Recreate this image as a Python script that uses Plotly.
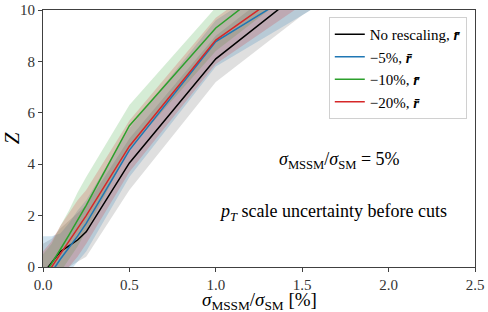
import plotly.graph_objects as go

x = [0.0, 0.05, 0.1, 0.15, 0.2, 0.25, 0.5, 1.0, 1.5, 2.0]

names = ["No rescaling, <b><i>r̄</i></b>", "−5%, <b><i>r̄</i></b>",
         "−10%, <b><i>r̄</i></b>", "−20%, <b><i>r̄</i></b>"]

z_none = [-0.26, 0.17, 0.6, 0.82, 1.05, 1.37, 4.05, 8.1, 10.75, 12.8]
z_m5 = [-0.65, -0.2, 0.3, 0.75, 1.2, 1.7, 4.55, 8.77, 10.85, 12.9]
z_m10 = [-0.4, 0.12, 0.68, 1.24, 1.8, 2.4, 5.5, 9.3, 11.9, 14.0]
z_m20 = [-0.5, 0.0, 0.5, 1.0, 1.5, 2.0, 4.7, 8.83, 11.2, 13.4]

up_none = [0.9, 1.1, 1.5, 1.8, 2.1, 2.4, 5.0, 9.0, 11.6, 13.7]
lo_none = [-1.0, -0.8, -0.3, 0.0, 0.2, 0.4, 3.0, 7.2, 9.8, 11.9]
up_m5 = [1.2, 1.2, 1.3, 1.7, 2.2, 2.6, 5.4, 9.6, 11.8, 13.9]
lo_m5 = [-1.5, -1.2, -0.7, -0.2, 0.2, 0.6, 3.5, 7.8, 9.8, 11.8]
up_m10 = [0.5, 0.9, 1.6, 2.2, 2.9, 3.5, 6.3, 10.1, 12.8, 14.9]
lo_m10 = [-1.3, -0.8, -0.2, 0.3, 0.8, 1.4, 4.6, 8.4, 11.0, 13.1]
up_m20 = [0.6, 1.0, 1.6, 2.1, 2.6, 3.0, 5.7, 9.7, 12.1, 14.3]
lo_m20 = [-1.4, -1.0, -0.5, 0.0, 0.4, 0.9, 3.7, 7.9, 10.2, 12.4]

lines = [z_none, z_m5, z_m10, z_m20]
uppers = [up_none, up_m5, up_m10, up_m20]
lowers = [lo_none, lo_m5, lo_m10, lo_m20]
colors = ["#000000", "#1f77b4", "#2ca02c", "#d62728"]
fills = ["rgba(110,110,110,0.22)", "rgba(31,119,180,0.2)",
         "rgba(44,160,44,0.2)", "rgba(214,39,40,0.2)"]

FONT = "Liberation Serif"

fig = go.Figure()
for up, lo, fc in zip(uppers, lowers, fills):
    fig.add_trace(go.Scatter(x=x, y=lo, mode="lines", line=dict(width=0),
                             showlegend=False, hoverinfo="skip"))
    fig.add_trace(go.Scatter(x=x, y=up, mode="lines", line=dict(width=0),
                             fill="tonexty", fillcolor=fc,
                             showlegend=False, hoverinfo="skip"))
for z, c, n in zip(lines, colors, names):
    fig.add_trace(go.Scatter(x=x, y=z, mode="lines", name=n,
                             line=dict(color=c, width=1.5)))

fig.add_annotation(x=1.715, y=4.16, xref="x", yref="y", showarrow=False,
                   text="<i>σ</i><sub>MSSM</sub>/<i>σ</i><sub>SM</sub> = 5%",
                   font=dict(family=FONT, size=18, color="#000"))
fig.add_annotation(x=1.68, y=2.14, xref="x", yref="y", showarrow=False,
                   text="<i>p<sub>T</sub></i> scale uncertainty before cuts",
                   font=dict(family=FONT, size=18, color="#000"))
# x-axis title
fig.add_annotation(x=0.5, y=-0.132, xref="paper", yref="paper",
                   xanchor="center", yanchor="middle", showarrow=False,
                   borderpad=0,
                   text="<i>σ</i><sub>MSSM</sub>/<i>σ</i><sub>SM</sub> [%]",
                   font=dict(family=FONT, size=19, color="#000"))

axis_common = dict(showline=True, linecolor="#404040", linewidth=1,
                   mirror=True, ticks="outside", ticklen=4, tickcolor="#404040",
                   showgrid=False, zeroline=False, automargin=False,
                   tickfont=dict(family=FONT, size=15, color="#333"))
fig.update_xaxes(range=[0, 2.5], tickvals=[0, 0.5, 1.0, 1.5, 2.0, 2.5],
                 ticktext=["0.0", "0.5", "1.0", "1.5", "2.0", "2.5"],
                 **axis_common)
fig.update_yaxes(range=[0, 10], tickvals=[0, 2, 4, 6, 8, 10],
                 title=dict(text="<i>Z</i>",
                            font=dict(family=FONT, size=21, color="#000"),
                            standoff=6),
                 **axis_common)

fig.update_layout(
    width=488, height=312,
    margin=dict(l=43, r=13, t=10, b=45),
    plot_bgcolor="white", paper_bgcolor="white",
    font=dict(family=FONT, color="#000"),
    legend=dict(x=0.981, y=0.973, xanchor="right", yanchor="top",
                traceorder="normal",
                bgcolor="rgba(255,255,255,0.85)", bordercolor="#d0d0d0",
                borderwidth=1, font=dict(family=FONT, size=15, color="#000"),
                tracegroupgap=0, itemwidth=30),
    showlegend=True,
)

fig.write_html("out.html", config={"displayModeBar": False},
               post_script="document.body.style.margin='0';"
                           "document.body.style.overflow='hidden';")
